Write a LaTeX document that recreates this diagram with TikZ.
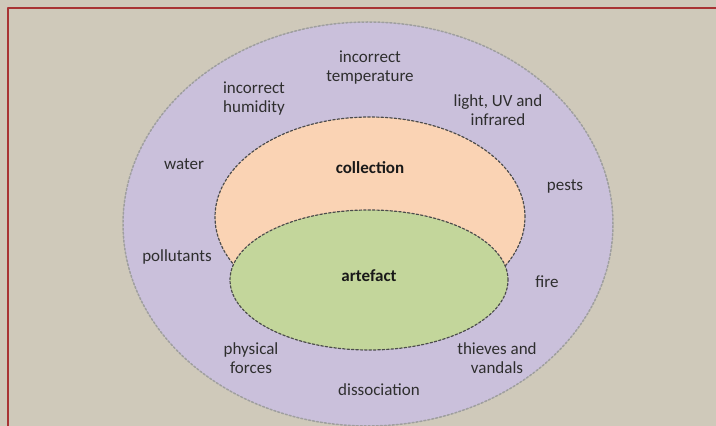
\documentclass[tikz,border=0pt]{standalone}
\usepackage{fontspec}
\setmainfont{Carlito}
\usepackage{xcolor}
\usetikzlibrary{shapes.geometric}
\usetikzlibrary{positioning}

\definecolor{bgpaper}{HTML}{CFC9BA}
\definecolor{frame}{HTML}{A83434}
\definecolor{lavender}{HTML}{CAC0DB}
\definecolor{peach}{HTML}{FAD3B4}
\definecolor{leaf}{HTML}{C3D69B}
\definecolor{inkgray}{HTML}{2E2E2E}

\tikzset{
  ring/.style={ellipse,inner sep=0pt,line width=1.2pt},
  outerring/.style={ring,fill=lavender,draw=gray!75!white,line width=1.5pt,dash pattern=on 2pt off 2pt},
  innerring/.style={ring,draw=gray!60!black,dash pattern=on 2.4pt off 2pt},
  risk/.style={align=center,text=inkgray,font=\fontsize{17}{19}\selectfont},
  zone/.style={text=black!90,font=\fontsize{17}{19}\selectfont\bfseries}
}

\begin{document}
\begin{tikzpicture}[line cap=round,line join=round,x=1pt,y=1pt]
\useasboundingbox (0,0) rectangle (716,426);
\fill[bgpaper] (0,0) rectangle (716,426);
\draw [frame,line width=2.5pt] (730,418) -- (8,418) -- (8,-10);
% rings
\node[outerring,minimum width=490pt,minimum height=404pt] (outer) at (368,202) {};
\node[innerring,fill=peach,minimum width=310pt,minimum height=200pt] (coll) at (370,209) {};
\node[innerring,fill=leaf,minimum width=278pt,minimum height=140pt] (art) at (369,146) {};
\node[zone] (colltxt) at (370,258) {collection};
\node[zone] (arttxt) at (369,150) {artefact};
% risks
\node[risk] (temp) at (370,358) {incorrect\\temperature};
\node[risk] (humid) at (254,327) {incorrect\\humidity};
\node[risk] (light) at (498,316) {light, UV and\\infrared};
\node[risk] (water) at (184,262) {water};
\node[risk] (pests) at (565,240) {pests};
\node[risk] (poll) at (177,169) {pollutants};
\node[risk] (fire) at (547,144) {fire};
\node[risk] (phys) at (251,68) {physical\\forces};
\node[risk] (thief) at (497,68) {thieves and\\vandals};
\node[risk] (dissoc) at (379,36) {dissociation};
\end{tikzpicture}
\end{document}
